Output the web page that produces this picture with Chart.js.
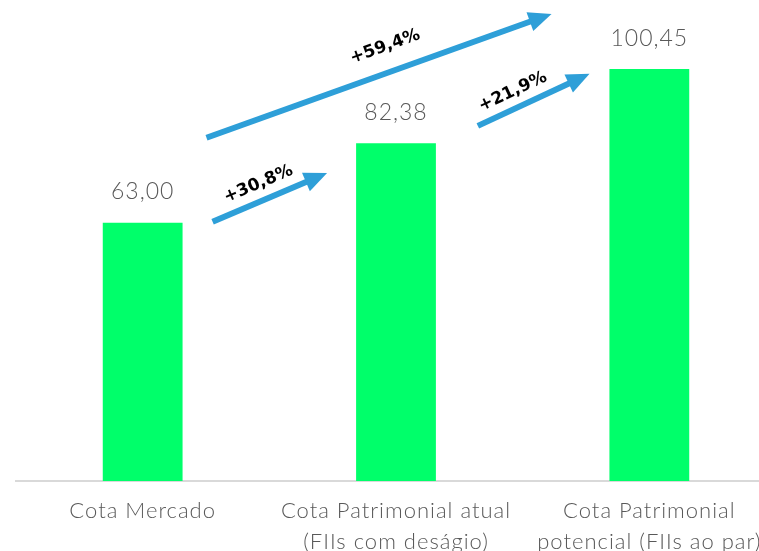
<!DOCTYPE html>
<html>
<head>
<meta charset="utf-8">
<script src="https://cdn.jsdelivr.net/npm/chart.js@4"></script>
<style>
  html, body { margin: 0; padding: 0; background: #fff; overflow: hidden; }
  #wrap { width: 776px; height: 551px; position: relative; }
</style>
</head>
<body>
<div id="wrap"><canvas id="chart"></canvas></div>
<script>
// Chart data
const categories = [
    ['Cota Mercado'],
    ['Cota Patrimonial atual', '(FIIs com deságio)'],
    ['Cota Patrimonial', 'potencial (FIIs ao par)']
];
const values = [63.00, 82.38, 100.45];

// Arrows: from bar i to bar j, anchored in data space (category index, value)
const arrows = [
    { from: 0, to: 1, start: [0.276, 63.2], end: [0.728, 75.1], label: [0.457, 72.4] },
    { from: 0, to: 2, start: [0.252, 83.7], end: [1.614, 113.9], label: [0.957, 105.9] },
    { from: 1, to: 2, start: [1.323, 86.6], end: [1.764, 99.3], label: [1.461, 94.9] }
];

const fmt = v => v.toFixed(2).replace('.', ',');
const pct = (a, b) => '+' + ((values[b] / values[a] - 1) * 100).toFixed(1).replace('.', ',') + '%';

const textGray = '#595959';
const thinFont = 'Lato, "DejaVu Sans", sans-serif';

// letter spacing for the thin labels
const spacing = {
    id: 'spacing',
    beforeDraw(chart) { chart.ctx.letterSpacing = '1px'; }
};

// Value labels above bars
const valueLabels = {
    id: 'valueLabels',
    afterDatasetsDraw(chart) {
        const ctx = chart.ctx;
        const meta = chart.getDatasetMeta(0);
        ctx.save();
        ctx.fillStyle = textGray;
        ctx.font = '300 23px ' + thinFont;
        ctx.textAlign = 'center';
        ctx.textBaseline = 'middle';
        meta.data.forEach((bar, i) => {
            ctx.fillText(fmt(values[i]), bar.x, bar.y - 31);
        });
        ctx.restore();
    }
};

// Growth arrows with rotated labels
const growthArrows = {
    id: 'growthArrows',
    afterDatasetsDraw(chart) {
        const ctx = chart.ctx;
        const xs = chart.scales.x, ys = chart.scales.y;
        const px = p => [xs.getPixelForValue(p[0]), ys.getPixelForValue(p[1])];
        ctx.save();
        ctx.letterSpacing = '0px';
        arrows.forEach(a => {
            const [x1, y1] = px(a.start);
            const [x2, y2] = px(a.end);
            const ang = Math.atan2(y2 - y1, x2 - x1);
            const headLen = 23, headW = 10;
            const bx = x2 - headLen * Math.cos(ang);
            const by = y2 - headLen * Math.sin(ang);
            ctx.strokeStyle = '#2E9FD8';
            ctx.fillStyle = '#2E9FD8';
            ctx.lineWidth = 6;
            ctx.beginPath();
            ctx.moveTo(x1, y1);
            ctx.lineTo(bx + 2 * Math.cos(ang), by + 2 * Math.sin(ang));
            ctx.stroke();
            ctx.beginPath();
            ctx.moveTo(x2, y2);
            ctx.lineTo(bx + headW * Math.sin(ang), by - headW * Math.cos(ang));
            ctx.lineTo(bx - headW * Math.sin(ang), by + headW * Math.cos(ang));
            ctx.closePath();
            ctx.fill();

            const [lx, ly] = px(a.label);
            ctx.save();
            ctx.translate(lx, ly);
            ctx.rotate(ang);
            ctx.fillStyle = '#000';
            ctx.font = 'bold 17px "DejaVu Sans", sans-serif';
            ctx.textAlign = 'center';
            ctx.textBaseline = 'middle';
            ctx.fillText(pct(a.from, a.to), 0, 0);
            ctx.restore();
        });
        ctx.restore();
    }
};

new Chart(document.getElementById('chart'), {
    type: 'bar',
    data: {
        labels: categories,
        datasets: [{
            data: values,
            backgroundColor: '#00FF6A',
            borderWidth: 0,
            categoryPercentage: 1,
            barPercentage: 0.315
        }]
    },
    options: {
        responsive: true,
        maintainAspectRatio: false,
        animation: false,
        layout: { padding: { left: 16, right: 0, top: 0, bottom: 0 } },
        plugins: {
            legend: { display: false },
            tooltip: { enabled: false }
        },
        scales: {
            x: {
                grid: { display: false, drawTicks: false },
                border: { display: true, color: '#D9D9D9', width: 2 },
                ticks: {
                    color: textGray,
                    font: { family: thinFont, size: 22, weight: '300', lineHeight: 1.41 },
                    padding: 14,
                    maxRotation: 0,
                    autoSkip: false
                },
                afterFit(scale) { scale.height = 70; }
            },
            y: {
                display: false,
                min: 0,
                max: 117.3
            }
        }
    },
    plugins: [spacing, valueLabels, growthArrows]
});
</script>
</body>
</html>
